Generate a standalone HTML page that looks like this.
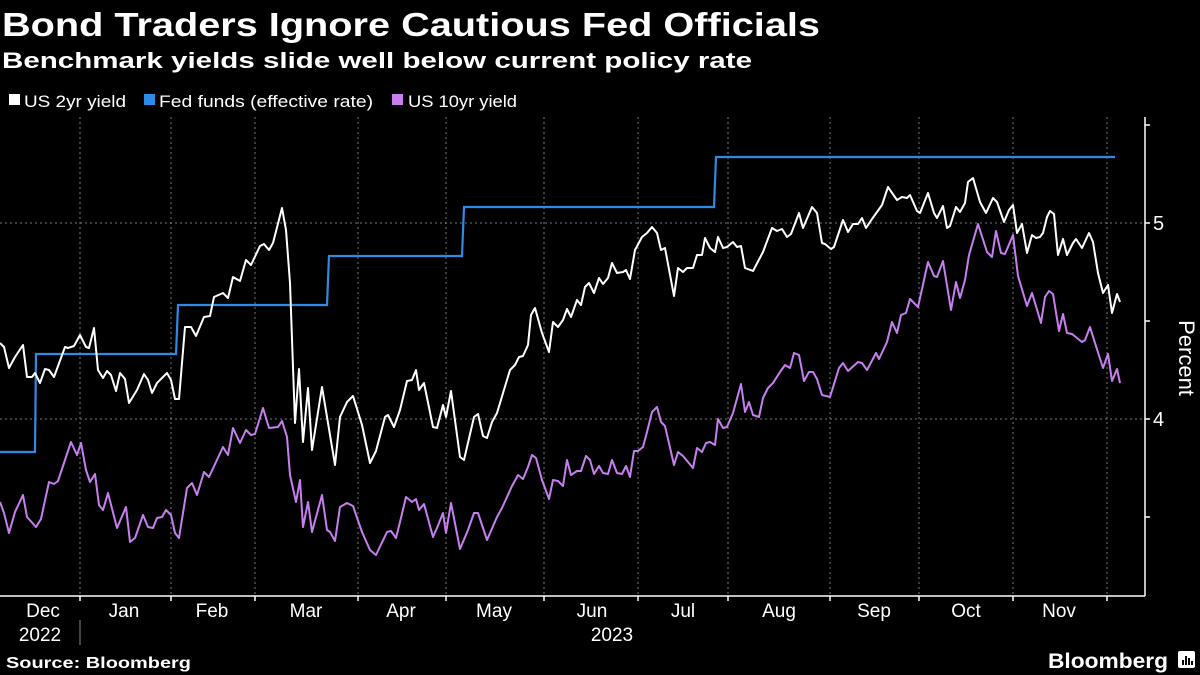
<!DOCTYPE html>
<html><head><meta charset="utf-8"><style>
html,body{margin:0;padding:0;background:#000;}
svg{display:block;font-family:"Liberation Sans","DejaVu Sans",sans-serif;}
</style></head><body>
<svg width="1200" height="675" viewBox="0 0 1200 675" xmlns="http://www.w3.org/2000/svg">
<rect width="1200" height="675" fill="#000"/>
<text x="2" y="36" fill="#fff" font-size="33" font-weight="bold" textLength="818" lengthAdjust="spacingAndGlyphs">Bond Traders Ignore Cautious Fed Officials</text>
<text x="2" y="68" fill="#fff" font-size="22" font-weight="bold" textLength="750" lengthAdjust="spacingAndGlyphs">Benchmark yields slide well below current policy rate</text>
<rect x="9" y="94" width="11" height="11" fill="#fff"/>
<text x="24" y="107" fill="#fff" font-size="17" textLength="102" lengthAdjust="spacingAndGlyphs">US 2yr yield</text>
<rect x="144" y="94" width="11" height="11" fill="#2d8ae6"/>
<text x="159" y="107" fill="#fff" font-size="17" textLength="214" lengthAdjust="spacingAndGlyphs">Fed funds (effective rate)</text>
<rect x="392" y="94" width="11" height="11" fill="#c77ff0"/>
<text x="408" y="107" fill="#fff" font-size="17" textLength="109" lengthAdjust="spacingAndGlyphs">US 10yr yield</text>
<g stroke="#777" stroke-width="1" stroke-dasharray="2,3">
<line x1="80" y1="117" x2="80" y2="596"/><line x1="171" y1="117" x2="171" y2="596"/><line x1="255" y1="117" x2="255" y2="596"/><line x1="358" y1="117" x2="358" y2="596"/><line x1="446" y1="117" x2="446" y2="596"/><line x1="544" y1="117" x2="544" y2="596"/><line x1="638" y1="117" x2="638" y2="596"/><line x1="728" y1="117" x2="728" y2="596"/><line x1="830" y1="117" x2="830" y2="596"/><line x1="919" y1="117" x2="919" y2="596"/><line x1="1013" y1="117" x2="1013" y2="596"/><line x1="1107" y1="117" x2="1107" y2="596"/>
<line x1="0" y1="223" x2="1145" y2="223"/><line x1="0" y1="419" x2="1145" y2="419"/>
</g>
<g stroke="#fff" stroke-width="1.5" fill="none">
<line x1="1145" y1="117" x2="1145" y2="596"/><line x1="0" y1="596" x2="1145" y2="596"/>
<line x1="1145" y1="125" x2="1150" y2="125"/><line x1="1145" y1="223" x2="1150" y2="223"/><line x1="1145" y1="321" x2="1150" y2="321"/><line x1="1145" y1="419" x2="1150" y2="419"/><line x1="1145" y1="517" x2="1150" y2="517"/>
<line x1="80" y1="596" x2="80" y2="601"/><line x1="171" y1="596" x2="171" y2="601"/><line x1="255" y1="596" x2="255" y2="601"/><line x1="358" y1="596" x2="358" y2="601"/><line x1="446" y1="596" x2="446" y2="601"/><line x1="544" y1="596" x2="544" y2="601"/><line x1="638" y1="596" x2="638" y2="601"/><line x1="728" y1="596" x2="728" y2="601"/><line x1="830" y1="596" x2="830" y2="601"/><line x1="919" y1="596" x2="919" y2="601"/><line x1="1013" y1="596" x2="1013" y2="601"/><line x1="1107" y1="596" x2="1107" y2="601"/>
</g>
<line x1="80" y1="620" x2="80" y2="645" stroke="#888" stroke-width="1"/>
<g fill="#fff" font-size="19" text-anchor="middle">
<text x="43" y="617">Dec</text><text x="124" y="617">Jan</text><text x="212" y="617">Feb</text><text x="306" y="617">Mar</text><text x="401" y="617">Apr</text><text x="494" y="617">May</text><text x="592" y="617">Jun</text><text x="683" y="617">Jul</text><text x="779" y="617">Aug</text><text x="874" y="617">Sep</text><text x="966" y="617">Oct</text><text x="1059" y="617">Nov</text>
<text x="40" y="641">2022</text><text x="612" y="641">2023</text>
</g>
<g fill="#fff" font-size="20"><text x="1153" y="230">5</text><text x="1153" y="426">4</text></g>
<text transform="translate(1179,358) rotate(90)" fill="#fff" font-size="22" text-anchor="middle">Percent</text>
<polyline fill="none" stroke="#2d8ae6" stroke-width="2.2" points="0,452 35,452 36,354 176,354 178,305 327,305 329,256 462,256 464,207 714,207 716,157 1115,157"/>
<polyline fill="none" stroke="#c77ff0" stroke-width="2" stroke-linejoin="round" points="0,502 4,513 9,533 15,512 23,495 27,517 36,527 41,519 49,482 54,484 58,481 71,442 77,455 81,443 86,470 90,482 95,474 99,505 103,510 108,493 117,528 126,507 130,542 135,538 143,515 148,527 153,528 157,518 162,517 166,510 171,515 175,533 179,538 187,488 192,483 197,495 204,472 209,477 223,447 228,455 233,428 240,443 246,430 251,435 255,434 263,408 269,428 278,427 282,421 287,437 290,475 296,502 300,480 303,527 308,502 312,532 322,495 327,530 330,532 335,541 340,507 347,503 353,506 362,532 370,550 376,555 387,532 391,531 396,538 400,522 406,497 412,502 416,499 419,510 424,504 433,537 437,528 443,513 446,533 451,503 460,549 468,530 474,513 478,513 487,540 497,517 502,508 512,486 518,475 523,479 528,467 532,455 536,458 542,480 549,499 553,480 558,481 563,486 567,460 571,475 577,471 581,471 586,456 590,460 594,474 599,466 603,473 608,474 612,460 617,473 622,474 626,466 630,477 634,451 638,451 643,447 647,432 652,412 657,407 661,422 665,426 674,465 678,452 683,456 693,468 697,448 702,452 706,443 710,442 715,445 718,419 723,428 727,427 733,413 741,384 745,412 749,402 753,415 759,417 763,398 768,388 773,383 780,372 785,365 790,368 794,353 799,355 804,381 809,372 813,372 817,379 822,395 830,397 839,368 843,363 848,371 858,362 862,363 867,370 876,353 879,359 887,342 892,322 897,333 901,315 906,313 910,299 918,307 928,262 934,276 937,277 943,261 951,310 956,282 960,298 965,280 969,255 978,224 987,252 992,257 996,231 1001,253 1005,254 1013,235 1018,276 1027,306 1032,293 1041,323 1045,297 1049,291 1053,294 1059,331 1063,314 1067,333 1072,334 1082,342 1085,340 1090,327 1095,343 1103,368 1108,354 1112,381 1117,369 1120,383"/>
<polyline fill="none" stroke="#fff" stroke-width="2" stroke-linejoin="round" points="0,343 4,347 9,368 15,357 23,345 27,377 32,377 35,373 40,383 45,369 49,370 54,377 65,347 68,348 74,346 80,335 86,347 89,348 94,328 98,370 103,378 107,371 111,375 116,391 120,373 125,379 129,403 137,390 144,374 148,380 152,393 157,383 167,373 171,380 175,399 179,399 185,327 191,327 196,336 204,317 210,316 214,297 223,293 228,298 233,277 240,281 246,260 251,265 260,246 264,244 269,250 273,243 282,208 286,230 290,283 295,423 299,369 303,442 308,388 312,450 322,387 335,465 340,417 347,402 353,396 362,425 370,463 376,451 385,417 388,415 394,427 400,410 407,381 412,380 416,370 419,390 424,383 433,427 437,428 443,405 446,417 451,391 460,457 464,460 474,417 478,414 483,436 487,438 492,422 497,413 510,370 515,365 519,357 523,356 528,345 531,315 535,308 542,333 549,352 553,322 558,327 563,320 567,309 571,317 577,300 581,305 585,287 589,283 594,293 599,278 603,284 608,278 612,263 617,273 623,272 626,270 630,279 635,250 642,237 647,233 652,227 657,233 661,250 665,248 674,296 678,268 683,272 687,268 693,268 697,255 702,255 705,238 710,248 715,252 718,237 723,248 727,247 733,242 737,247 741,246 745,268 753,271 763,252 772,228 777,231 782,229 787,237 791,234 799,213 803,228 812,207 817,213 822,243 825,244 831,249 834,247 843,220 848,232 853,224 858,224 862,218 866,228 872,219 882,205 888,187 897,200 902,197 907,198 910,195 917,211 920,213 928,193 934,213 937,218 943,206 947,228 950,226 956,207 960,212 965,203 968,182 973,178 980,202 986,213 993,198 997,202 1004,222 1009,210 1013,205 1017,233 1022,224 1027,253 1032,235 1036,238 1040,237 1043,233 1047,217 1050,211 1054,214 1058,255 1063,239 1067,255 1073,243 1076,239 1082,248 1089,233 1093,242 1098,273 1103,293 1108,285 1112,313 1117,294 1120,302"/>
<text x="6" y="668" fill="#fff" font-size="16" font-weight="bold" textLength="185" lengthAdjust="spacingAndGlyphs">Source: Bloomberg</text>
<text x="1048" y="668" fill="#fff" font-size="21" font-weight="bold" textLength="120" lengthAdjust="spacingAndGlyphs">Bloomberg</text>
<rect x="1178" y="651" width="17" height="17" rx="2" fill="#fff"/>
<g fill="#000"><rect x="1182" y="660" width="2" height="5"/><rect x="1185" y="656" width="2" height="9"/><rect x="1188" y="658" width="2" height="7"/><rect x="1191" y="661" width="2" height="4"/></g>
</svg>
</body></html>
